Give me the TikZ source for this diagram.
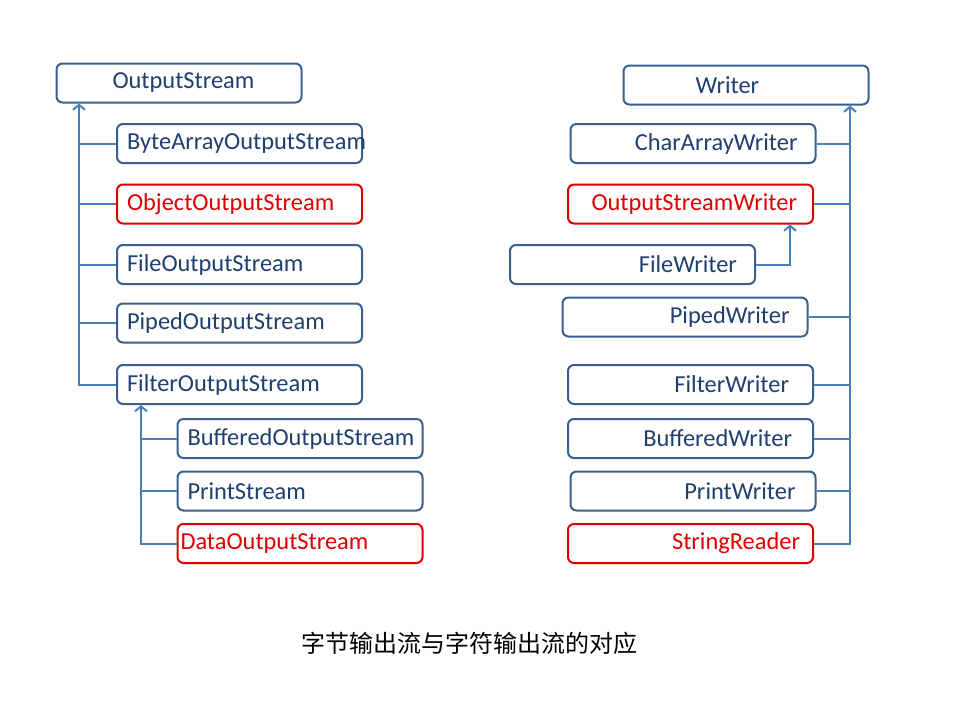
\documentclass[tikz,border=0pt]{standalone}
\usepackage{fontspec}
\setmainfont{Carlito}
\newfontfamily\cjkfont{Noto Sans CJK SC}
\usetikzlibrary{arrows.meta,calc}
\definecolor{navy}{HTML}{1F3F6E}
\definecolor{edge}{HTML}{3A5F8C}
\definecolor{wire}{HTML}{4A7EBB}
\definecolor{alert}{HTML}{E00000}

\begin{document}
\begin{tikzpicture}[
  x=1pt, y=-1pt,
  font=\fontsize{24.4}{28}\selectfont\color{navy},
  cls/.style={draw=edge, line width=2pt, rounded corners=6pt, fill=white,
              minimum height=39pt, inner ysep=2pt, inner xsep=10pt,
              text width=225pt, align=left},
  clsr/.style={cls, inner xsep=18pt, text width=209pt, align=right},
  hot/.style={draw=alert, text=alert},
  link/.style={draw=wire, line width=2pt},
  inherit/.style={link, -{Straight Barb[length=5pt, width=12pt]}},
]
\useasboundingbox (0,0) rectangle (960,720);

% ---- Byte streams -----------------------------------------------------------
\node[cls] (ostream) at (179,83) {\hspace*{46pt}OutputStream};
\node[cls] (bytearr) at (239.5,143.5) {ByteArrayOutputStream};
\node[cls, hot] (object) at (239.5,204) {ObjectOutputStream};
\node[cls] (fileos) at (239.5,264.5) {FileOutputStream};
\node[cls] (pipedos) at (239.5,323) {PipedOutputStream};
\node[cls] (filteros) at (239.5,384.5) {FilterOutputStream};
\node[cls] (buffos) at (300,438.5) {BufferedOutputStream};
\node[cls] (printos) at (300,491) {PrintStream};
\node[cls, hot, inner xsep=3pt, text width=239pt] (dataos) at (300,543.5) {DataOutputStream};

% ---- Character streams ------------------------------------------------------
\node[cls] (writer) at (746,85) {\hspace*{62pt}Writer};
\node[clsr] (chararr) at (693,143.5) {CharArrayWriter};
\node[clsr, hot, inner xsep=16pt, text width=213pt] (osw) at (690.5,204) {OutputStreamWriter};
\node[clsr] (filew) at (632.5,264.5) {FileWriter};
\node[clsr] (pipedw) at (685,317) {PipedWriter};
\node[clsr, inner xsep=24pt, text width=197pt] (filterw) at (690.5,384.5) {FilterWriter};
\node[clsr, inner xsep=21pt, text width=203pt] (buffw) at (690.5,438.5) {BufferedWriter};
\node[clsr, inner xsep=20pt, text width=205pt] (printw) at (693,491) {PrintWriter};
\node[clsr, hot, inner xsep=13pt, text width=219pt] (stringr) at (690.5,543.5) {StringReader};

% ---- Caption ----------------------------------------------------------------
\node[font=\cjkfont\fontsize{24}{28}\selectfont\color{black}] (caption) at (469,643)
  {字节输出流与字符输出流的对应};

% ---- Trunks -----------------------------------------------------------------
\coordinate (ltrunk) at (79,0);
\coordinate (ftrunk) at (141,0);
\coordinate (rtrunk) at (850,0);
\coordinate (fwjog) at (790,0);

\draw[inherit] (filteros.west) -| (ostream.south -| ltrunk);
\foreach \n in {bytearr,object,fileos,pipedos}
  \draw[link] (\n.west) -- (\n.west -| ltrunk);

\draw[inherit] (dataos.west) -| (filteros.south -| ftrunk);
\foreach \n in {buffos,printos}
  \draw[link] (\n.west) -- (\n.west -| ftrunk);

\draw[inherit] (stringr.east) -| (writer.south -| rtrunk);
\foreach \n in {chararr,osw,pipedw,filterw,buffw,printw}
  \draw[link] (\n.east) -- (\n.east -| rtrunk);

\draw[inherit] (filew.east) -| (osw.south -| fwjog);

\end{tikzpicture}
\end{document}
